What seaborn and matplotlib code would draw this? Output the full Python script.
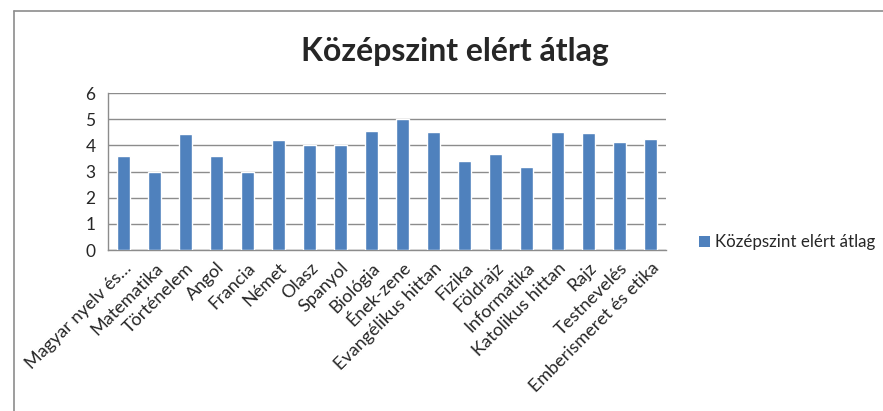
import matplotlib
matplotlib.use("Agg")
from matplotlib import pyplot as plt
from matplotlib.lines import Line2D
from matplotlib.patches import Patch
import numpy as np
import pandas as pd
import seaborn as sns

subjects = ["Magyar nyelv és…", "Matematika", "Történelem", "Angol", "Francia",
            "Német", "Olasz", "Spanyol", "Biológia", "Ének-zene",
            "Evangélikus hittan", "Fizika", "Földrajz", "Informatika",
            "Katolikus hittan", "Rajz", "Testnevelés", "Emberismeret és etika"]
averages = [3.58, 3.0, 4.42, 3.59, 3.0, 4.19, 4.0, 4.0, 4.55, 5.0,
            4.51, 3.41, 3.68, 3.19, 4.5, 4.46, 4.12, 4.24]
series_name = "Középszint elért átlag"

df = pd.DataFrame({"subject": subjects, "avg": averages})

sns.set_style("white")
plt.rcParams["font.family"] = ["Lato", "DejaVu Sans"]

fig = plt.figure(figsize=(8.83, 4.11), dpi=100)
ax = fig.add_axes([0.1223, 0.3917, 0.632, 0.382])

sns.barplot(data=df, x="subject", y="avg", color="#4F81BD", saturation=1,
            width=0.41, ax=ax, zorder=3)

ax.set_ylim(0, 6)
ax.set_xlim(-0.5, len(subjects) - 0.5)
ax.set_yticks(range(0, 7))
ax.yaxis.grid(True, color="#8C8C8C", linewidth=1.0, zorder=0)
ax.set_axisbelow(True)
ax.set_xlabel("")
ax.set_ylabel("")

for s in ["top", "right"]:
    ax.spines[s].set_visible(False)
for s in ["left", "bottom"]:
    ax.spines[s].set_color("#8C8C8C")
    ax.spines[s].set_linewidth(1.0)

# labels at category centres, tick marks on category boundaries
ax.set_xticks(np.arange(len(subjects)))
ax.set_xticklabels(subjects, rotation=45, ha="right", rotation_mode="anchor",
                   fontsize=13)
ax.tick_params(axis="x", length=0, pad=7)
ax.set_xticks(np.arange(-0.5, len(subjects)), minor=True)
ax.tick_params(axis="x", which="minor", length=5, color="#8C8C8C", width=1)
ax.tick_params(axis="y", length=5, color="#8C8C8C", width=1, labelsize=12.5, pad=4)

fig.text(0.515, 0.875, series_name, ha="center", va="center",
         fontsize=23, fontweight="bold")

leg_handle = Patch(facecolor="#4F81BD", edgecolor="none")
fig.legend([leg_handle], [series_name], loc="center left",
           bbox_to_anchor=(0.792, 0.41), frameon=False, fontsize=12.2,
           handlelength=0.6, handleheight=0.6, handletextpad=0.3,
           borderaxespad=0, borderpad=0)

# chart area border (cropped at right and bottom)
fig.add_artist(Line2D([14 / 883, 1], [1 - 11 / 411, 1 - 11 / 411],
                      transform=fig.transFigure, color="#8C8C8C", lw=1.2))
fig.add_artist(Line2D([14 / 883, 14 / 883], [0, 1 - 11 / 411],
                      transform=fig.transFigure, color="#8C8C8C", lw=1.2))

fig.savefig("out.png", dpi=100)
